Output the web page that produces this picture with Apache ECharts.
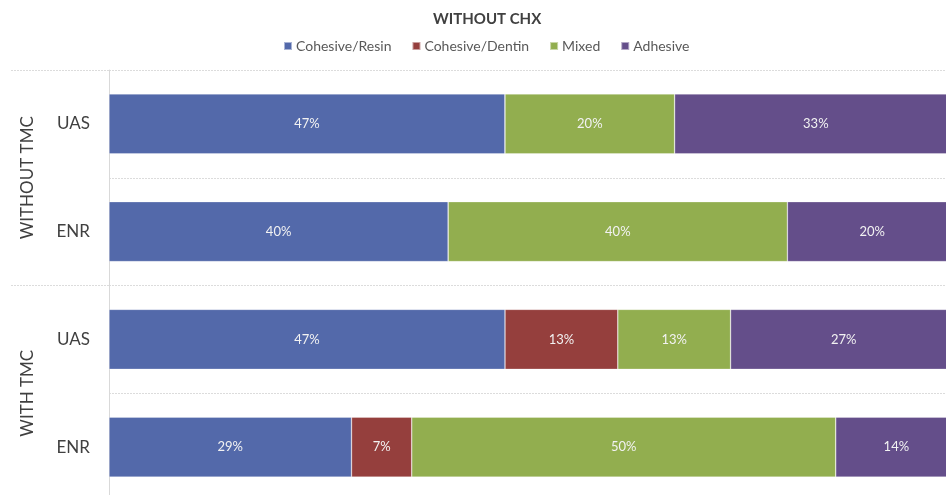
<!DOCTYPE html>
<html>
<head>
<meta charset="utf-8">
<script src="https://cdn.jsdelivr.net/npm/echarts@6/dist/echarts.min.js"></script>
<style>
html,body{margin:0;padding:0;background:#fff;}
#chart{width:946px;height:495px;}
</style>
</head>
<body>
<div id="chart"></div>
<script>
var titleText = 'WITHOUT CHX';
var groups = ['WITHOUT TMC', 'WITH TMC'];
var categories = ['UAS', 'ENR', 'UAS', 'ENR'];
var seriesNames = ['Cohesive/Resin', 'Cohesive/Dentin', 'Mixed', 'Adhesive'];
var cohesiveResin = [46.7, 40, 46.7, 28.6];
var cohesiveDentin = [0, 0, 13.3, 7.1];
var mixed = [20, 40, 13.3, 50];
var adhesive = [33.3, 20, 26.7, 14.3];
var colors = ['#5369AA', '#953F3D', '#92AE4F', '#644E8A'];

var values = [cohesiveResin, cohesiveDentin, mixed, adhesive];
var FONT = 'Lato';
var chart = echarts.init(document.getElementById('chart'));
chart.setOption({
  animation: false,
  textStyle: { fontFamily: FONT },
  title: {
    text: titleText,
    left: 428,
    top: 7,
    textStyle: { fontFamily: FONT, fontSize: 15, fontWeight: 'bold', color: '#404040' }
  },
  legend: {
    data: seriesNames,
    left: 278,
    top: 34,
    icon: 'rect',
    itemWidth: 8,
    itemHeight: 8,
    itemGap: 20,
    textStyle: { fontFamily: FONT, fontSize: 14, color: '#595959', padding: [0, 0, 0, -1] }
  },
  grid: { left: 109, width: 848, top: 70, height: 431, containLabel: false, outerBoundsMode: 'none' },
  xAxis: { type: 'value', min: 0, max: 100, show: false },
  yAxis: [{
    type: 'category',
    data: categories,
    inverse: true,
    axisLine: { show: true, lineStyle: { color: '#d9d9d9' } },
    axisTick: { show: false },
    splitLine: { show: true, lineStyle: { color: '#dcdcdc', type: [2, 1] } },
    axisLabel: { margin: 19, fontFamily: FONT, fontSize: 17, color: '#404040' }
  }, {
    type: 'category',
    data: groups,
    inverse: true,
    position: 'left',
    axisLine: { show: false },
    axisTick: { show: true, length: 99, lineStyle: { color: '#dcdcdc', type: [2, 1] } },
    splitLine: { show: false },
    axisLabel: { rotate: 90, margin: 73, fontFamily: FONT, fontSize: 17, color: '#404040' }
  }],
  series: seriesNames.map(function (name, i) {
    return {
      name: name,
      type: 'bar',
      stack: 'total',
      yAxisIndex: 0,
      barWidth: 60,
      data: values[i],
      itemStyle: { color: colors[i], borderColor: 'rgba(255,255,255,0.5)', borderWidth: 0.6 },
      label: {
        show: true,
        position: 'inside',
        fontFamily: FONT,
        fontSize: 13,
        color: '#f2f2f2',
        formatter: function (p) { return p.value > 0 ? Math.round(p.value) + '%' : ''; }
      }
    };
  })
});
</script>
</body>
</html>
